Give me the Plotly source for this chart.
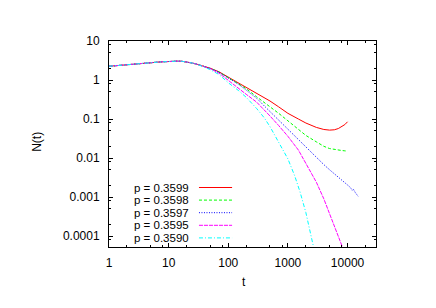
import plotly.graph_objects as go

# ---------------- data ----------------
t_early = [1, 2, 3, 5, 7, 10, 12, 14, 17, 20, 25, 30]
n_early = [2.25, 2.42, 2.58, 2.77, 2.9, 3.01, 3.04, 3.05, 3.01, 2.92, 2.72, 2.53]

red_t = [40, 50, 70, 100, 150, 200, 300, 400, 500, 700, 1000, 1500, 2000, 3000,
         4000, 5000, 6000, 7000, 8000, 9000, 10000]
red_n = [2.22, 2.0, 1.62, 1.18, 0.84, 0.65, 0.46, 0.355, 0.29, 0.205, 0.14, 0.1,
         0.079, 0.061, 0.054, 0.052, 0.053, 0.057, 0.063, 0.072, 0.085]

green_t = [40, 50, 70, 100, 150, 200, 300, 400, 500, 700, 1000, 1500, 2000, 3000,
           4000, 5000, 6000, 7000, 8000, 9000, 10000]
green_n = [2.21, 1.99, 1.6, 1.16, 0.8, 0.6, 0.37, 0.27, 0.21, 0.14, 0.09, 0.055,
           0.038, 0.026, 0.02, 0.0175, 0.0165, 0.016, 0.0156, 0.0153, 0.015]

blue_t = [40, 50, 70, 100, 150, 200, 300, 400, 500, 700, 1000, 1500, 2000, 3000,
          4000, 5000, 7000, 10000, 11000, 12000, 12500, 13500, 15000]
blue_n = [2.21, 1.98, 1.58, 1.14, 0.77, 0.55, 0.34, 0.218, 0.155, 0.093, 0.054,
          0.029, 0.0186, 0.0103, 0.0068, 0.005, 0.0032, 0.002, 0.0018, 0.0015,
          0.0016, 0.0013, 0.00105]

magenta_t = [40, 50, 70, 100, 150, 200, 300, 400, 500, 700, 1000, 1500, 2000, 3000,
             4000, 5000, 6000, 7000, 8000, 8300]
magenta_n = [2.2, 1.95, 1.5, 1.0, 0.6, 0.43, 0.27, 0.175, 0.12, 0.068, 0.036,
             0.016, 0.0075, 0.0024, 0.0009, 0.00037, 0.00018, 0.0001, 0.000058,
             0.00005]

cyan_t = [40, 50, 70, 100, 150, 200, 300, 400, 500, 700, 1000, 1300, 1600, 2000,
          2300, 2500, 2700]
cyan_n = [2.15, 1.84, 1.38, 0.85, 0.53, 0.36, 0.185, 0.108, 0.064, 0.026, 0.0095,
          0.0035, 0.00134, 0.0004, 0.000163, 0.000091, 0.000051]

labels = ["p = 0.3599", "p = 0.3598", "p = 0.3597", "p = 0.3595", "p = 0.3590"]
colors = ["#ff0000", "#00ff00", "#0000ff", "#ff00ff", "#00ffff"]
dashes = ["solid", "3px,2px", "1px,1.5px", "4px,1px", "4px,2px,1px,2px"]

x_ticks = [1, 10, 100, 1000, 10000]
x_ticktext = ["1", "10", "100", "1000", "10000"]
y_ticks = [0.0001, 0.001, 0.01, 0.1, 1, 10]
y_ticktext = ["0.0001", "0.001", "0.01", "0.1", "1", "10"]

series = [(red_t, red_n), (green_t, green_n), (blue_t, blue_n),
          (magenta_t, magenta_n), (cyan_t, cyan_n)]

fig = go.Figure()
for (tt, nn), lab, col, ds in zip(series, labels, colors, dashes):
    fig.add_trace(go.Scatter(x=t_early + tt, y=n_early + nn, mode="lines", name=lab,
                             line=dict(color=col, width=1, dash=ds)))

x_minor = [m * d for d in [1, 10, 100, 1000, 10000] for m in (2, 5, 8)]
y_minor = [m * d for d in [0.00001, 0.0001, 0.001, 0.01, 0.1, 1] for m in (2, 5, 8)]

axis_common = dict(type="log", showgrid=False, zeroline=False, showline=True,
                   linecolor="black", linewidth=1, mirror="allticks",
                   ticks="inside", ticklen=4, tickcolor="black", tickwidth=1,
                   automargin=False)

fig.update_xaxes(range=[0, 4.477], tickmode="array", tickvals=x_ticks,
                 ticktext=x_ticktext, ticklabelstandoff=5,
                 minor=dict(tickvals=x_minor, ticks="inside", ticklen=2,
                            tickcolor="black", showgrid=False),
                 **axis_common)
fig.update_yaxes(range=[-4.28, 1], tickmode="array", tickvals=y_ticks,
                 ticktext=y_ticktext, ticklabelstandoff=6,
                 minor=dict(tickvals=y_minor, ticks="inside", ticklen=2,
                            tickcolor="black", showgrid=False),
                 **axis_common)

# the page body has an 8px margin, so the figure is 8px smaller and margins shifted
fig.update_layout(width=428, height=300,
                  margin=dict(l=101, r=60, t=33, b=61, autoexpand=False),
                  paper_bgcolor="white", plot_bgcolor="white",
                  showlegend=False,
                  font=dict(family="Liberation Sans, Arial, sans-serif", size=12,
                            color="black"))

# axis titles
fig.add_annotation(text="N(t)", xref="paper", yref="paper", x=-0.27, y=0.51,
                   textangle=-90, showarrow=False, xanchor="center", yanchor="middle")
fig.add_annotation(text="t", xref="paper", yref="paper", x=0.506, y=-0.168,
                   showarrow=False, xanchor="center", yanchor="middle")

# gnuplot-style key: text then line sample
for i, (lab, col, ds) in enumerate(zip(labels, colors, dashes)):
    ypix = 187.5 + 12.6 * i
    yp = (247 - ypix) / 206
    fig.add_annotation(text=lab, xref="paper", yref="paper", x=0.303, y=yp,
                       showarrow=False, xanchor="right", yanchor="middle",
                       borderpad=0, font=dict(size=11.5))
    fig.add_shape(type="line", xref="paper", yref="paper", x0=0.337, x1=0.461,
                  y0=yp, y1=yp, line=dict(color=col, width=1, dash=ds))

fig.write_html("out.html")
